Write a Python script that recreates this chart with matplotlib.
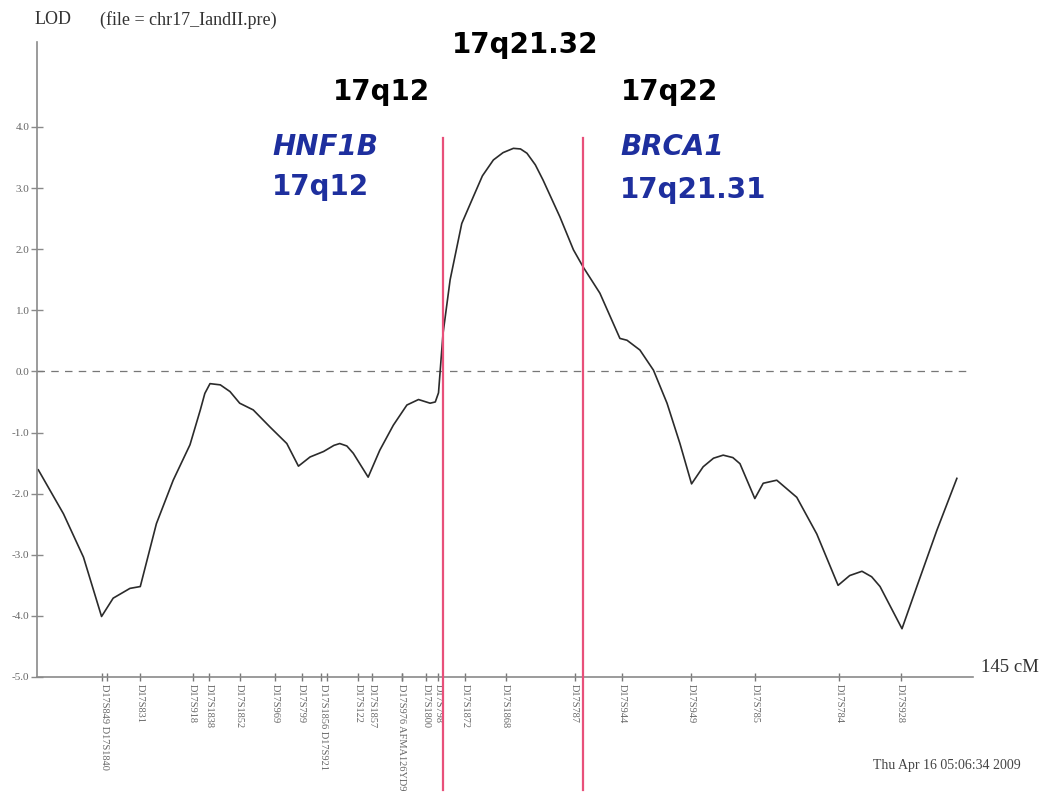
import numpy as np
import matplotlib.pyplot as plt

# LOD curve along chromosome 17 (cM, LOD)
pos_cm = [0.2, 4.1, 7.2, 10.0, 11.8, 14.4, 16.0, 18.5, 21.1, 23.7, 25.3, 26.0, 26.8,
          28.4, 29.9, 31.4, 33.5, 36.1, 38.7, 40.5, 42.3, 44.4, 46.0, 46.9, 48.0, 49.0, 51.3,
          53.1, 55.2, 57.3, 59.1, 60.9, 61.7, 62.2, 62.9, 64.0, 65.8, 67.6, 69.0, 70.7,
          72.2, 73.8, 74.9, 75.9, 77.2, 78.4, 81.0, 83.1, 84.6, 87.2, 90.3, 91.4, 93.4, 95.5, 97.6,
          99.6, 101.4, 103.2, 104.8, 106.3, 107.8, 108.9, 111.2, 112.5, 114.6, 117.7, 120.8,
          124.1, 125.9, 127.8, 129.3, 130.6, 134.0, 136.3, 139.4, 142.5]
lod = [-1.61, -2.33, -3.04, -4.01, -3.71, -3.55, -3.52, -2.49, -1.78, -1.20, -0.63, -0.36, -0.20,
       -0.22, -0.33, -0.52, -0.63, -0.91, -1.18, -1.55, -1.40, -1.31, -1.21, -1.18, -1.22, -1.34, -1.73,
       -1.29, -0.88, -0.55, -0.46, -0.52, -0.50, -0.35, 0.62, 1.50, 2.42, 2.86, 3.20, 3.46,
       3.58, 3.65, 3.64, 3.57, 3.38, 3.13, 2.53, 1.99, 1.71, 1.28, 0.54, 0.51, 0.35, 0.02, -0.52,
       -1.18, -1.84, -1.56, -1.42, -1.37, -1.41, -1.51, -2.08, -1.83, -1.78, -2.06, -2.66,
       -3.50, -3.34, -3.27, -3.36, -3.52, -4.21, -3.52, -2.60, -1.75]

marker_cm = [10.0, 10.8, 16.0, 24.1, 26.7, 31.4, 36.9, 41.0, 44.0, 44.9, 49.8, 51.9,
             56.5, 56.5, 60.3, 62.1, 66.3, 72.6, 83.3, 90.7, 101.3, 111.3, 124.3, 133.8]
marker_names = ['D17S849', 'D17S1840', 'D17S831', 'D17S918', 'D17S1838', 'D17S1852',
                'D17S969', 'D17S799', 'D17S1856', 'D17S921', 'D17S122', 'D17S1857',
                'D17S976', 'AFMA126YD9', 'D17S1800', 'D17S798', 'D17S1872', 'D17S1868',
                'D17S787', 'D17S944', 'D17S949', 'D17S785', 'D17S784', 'D17S928']

boundary_cm = [62.9, 84.6]
yticks = [4, 3, 2, 1, 0, -1, -2, -3, -4, -5]

W, H = 1045, 793
def fpos(x, y):
    return x / W, 1 - y / H

# markers sitting closer than ~1.2 cM share one label
groups = []
for c, n in zip(marker_cm, marker_names):
    if groups and c - groups[-1][0][-1] < 1.2:
        groups[-1][0].append(c)
        groups[-1][1].append(n)
    else:
        groups.append(([c], [n]))
label_cm = [np.mean(g[0]) for g in groups]
label_txt = [' '.join(g[1]) for g in groups]

fig = plt.figure(figsize=(W / 100, H / 100), dpi=100, facecolor='white')
ax = fig.add_axes([37 / W, 1 - 677 / H, (973 - 37) / W, (677 - 42) / H])
ax.set_xlim(0, 145)
ax.set_ylim(-5, 5.39)

for s in ['top', 'right']:
    ax.spines[s].set_visible(False)
for s in ['left', 'bottom']:
    ax.spines[s].set_color('#8a8a8a')
    ax.spines[s].set_linewidth(1.2)

ax.axhline(0, color='#777777', lw=0.9, ls=(0, (6, 5)), xmax=0.995)
ax.plot(pos_cm, lod, color='#2b2b2b', lw=1.2, solid_joinstyle='round')
for b in boundary_cm:
    ax.plot([b, b], [3.82, -6.85], color='#e8507a', lw=1.6, clip_on=False, zorder=5)

serif = 'Liberation Serif'
ax.set_yticks(yticks)
ax.set_yticklabels([f'{v:.1f}' for v in yticks], fontsize=8, family=serif, color='#666666')
ax.tick_params(axis='y', direction='inout', length=9, width=1, color='#8a8a8a', pad=1)

ax.xaxis.remove_overlapping_locs = False
ax.set_xticks(label_cm)
ax.set_xticks(marker_cm, minor=True)
ax.set_xticklabels(label_txt, rotation=-90, fontsize=7.5, family=serif, color='#666666',
                   va='top', ha='center')
ax.tick_params(axis='x', which='major', direction='inout', length=0, pad=5)
ax.tick_params(axis='x', which='minor', direction='inout', length=6, width=1, color='#777777')

fig.text(*fpos(35, 20), 'LOD', fontsize=13, family=serif, color='#333333', va='center')
fig.text(*fpos(100, 20), '(file = chr17_IandII.pre)', fontsize=13, family=serif,
         color='#333333', va='center')
fig.text(*fpos(981, 668), '145 cM', fontsize=13.5, family=serif, color='#333333', va='center')
fig.text(*fpos(873, 766), 'Thu Apr 16 05:06:34 2009', fontsize=10, family=serif,
         color='#444444', va='center')

bold = dict(fontsize=20, fontweight='bold', family='DejaVu Sans', va='center')
fig.text(*fpos(525, 45), '17q21.32', color='black', ha='center', **bold)
fig.text(*fpos(381, 92), '17q12', color='black', ha='center', **bold)
fig.text(*fpos(670, 92), '17q22', color='black', ha='center', **bold)
blue = '#1e2f9e'
fig.text(*fpos(272, 147), 'HNF1B', color=blue, ha='left', style='italic', **bold)
fig.text(*fpos(272, 187), '17q12', color=blue, ha='left', **bold)
fig.text(*fpos(620, 147), 'BRCA1', color=blue, ha='left', style='italic', **bold)
fig.text(*fpos(620, 190), '17q21.31', color=blue, ha='left', **bold)

fig.savefig('out.png', dpi=100, facecolor=fig.get_facecolor())
